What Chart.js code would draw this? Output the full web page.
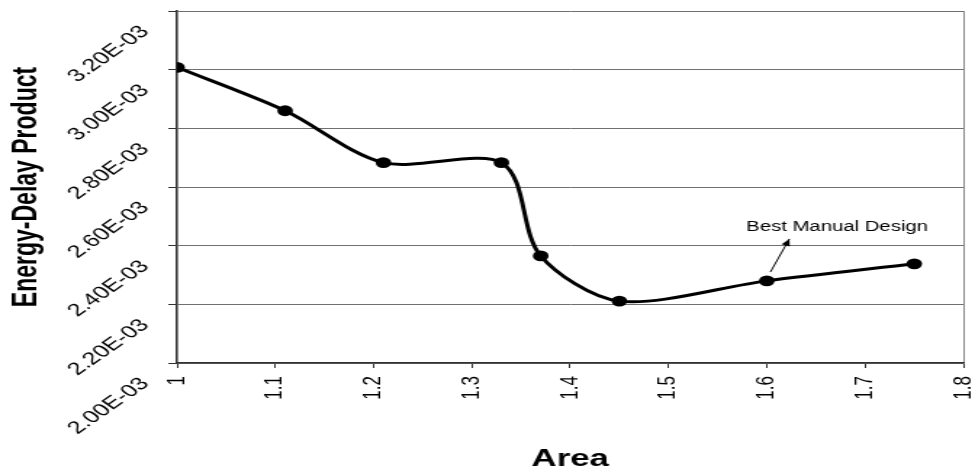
<!DOCTYPE html>
<html>
<head>
<meta charset="utf-8">
<script src="https://cdn.jsdelivr.net/npm/chart.js@4.4.1/dist/chart.umd.min.js"></script>
<style>
html, body { margin: 0; padding: 0; background: #fff; overflow: hidden; }
#wrap { position: absolute; left: 0; top: 0; width: 672px; height: 474px; transform: scaleX(1.4509); transform-origin: 0 0; }
</style>
</head>
<body>
<div id="wrap"><canvas id="c"></canvas></div>
<script>
// ---- data ----
const areaValues = [1, 1.11, 1.21, 1.33, 1.37, 1.45, 1.6, 1.75];
const edpValues = [3.008e-3, 2.860e-3, 2.683e-3, 2.683e-3, 2.365e-3, 2.211e-3, 2.280e-3, 2.338e-3];
const xTickValues = [1, 1.1, 1.2, 1.3, 1.4, 1.5, 1.6, 1.7, 1.8];
const yTickValues = [2.0e-3, 2.2e-3, 2.4e-3, 2.6e-3, 2.8e-3, 3.0e-3, 3.2e-3];
const xTitle = 'Area';
const yTitle = 'Energy-Delay Product';
const annotationText = 'Best Manual Design';
const annotationLabelAt = [1.6715, 2.4637e-3];
const annotationArrowFrom = [1.6036, 2.310e-3];
const annotationArrowTo = [1.623, 2.423e-3];

const FONT = '"Liberation Sans", Arial, Helvetica, sans-serif';
Chart.defaults.font.family = FONT;
Chart.defaults.color = '#000';

function fmtExp(v) {
  const parts = Number(v).toExponential(2).toUpperCase().split('E');
  const e = parseInt(parts[1], 10);
  const sign = e < 0 ? '-' : '+';
  const abs = String(Math.abs(e)).padStart(2, '0');
  return parts[0] + 'E' + sign + abs;
}

const annotationPlugin = {
  id: 'annotationPlugin',
  afterDatasetsDraw(chart) {
    const ctx = chart.ctx;
    const xs = chart.scales.x, ys = chart.scales.y;
    ctx.save();
    ctx.font = '14px ' + FONT;
    ctx.fillStyle = '#000';
    ctx.textAlign = 'center';
    ctx.textBaseline = 'middle';
    ctx.fillText(annotationText, xs.getPixelForValue(annotationLabelAt[0]), ys.getPixelForValue(annotationLabelAt[1]));
    const x1 = xs.getPixelForValue(annotationArrowFrom[0]), y1 = ys.getPixelForValue(annotationArrowFrom[1]);
    const x2 = xs.getPixelForValue(annotationArrowTo[0]), y2 = ys.getPixelForValue(annotationArrowTo[1]);
    ctx.strokeStyle = '#000';
    ctx.lineWidth = 1;
    ctx.beginPath();
    ctx.moveTo(x1, y1);
    ctx.lineTo(x2, y2);
    ctx.stroke();
    const ang = Math.atan2(y2 - y1, x2 - x1);
    const L = 7, W = 3;
    ctx.beginPath();
    ctx.moveTo(x2, y2);
    ctx.lineTo(x2 - L * Math.cos(ang) + W * Math.sin(ang), y2 - L * Math.sin(ang) - W * Math.cos(ang));
    ctx.lineTo(x2 - L * Math.cos(ang) - W * Math.sin(ang), y2 - L * Math.sin(ang) + W * Math.cos(ang));
    ctx.closePath();
    ctx.fillStyle = '#000';
    ctx.fill();
    ctx.restore();
  }
};

new Chart(document.getElementById('c'), {
  type: 'line',
  data: {
    datasets: [{
      data: areaValues.map((a, i) => ({ x: a, y: edpValues[i] })),
      borderColor: '#000',
      backgroundColor: '#000',
      borderWidth: 3,
      pointRadius: 5.4,
      pointHoverRadius: 5.4,
      pointBackgroundColor: '#000',
      pointBorderWidth: 0,
      tension: 0.3,
      fill: false
    }]
  },
  options: {
    responsive: true,
    maintainAspectRatio: false,
    animation: false,
    events: [],
    layout: { padding: { left: 0, right: 8, top: 11, bottom: 0 } },
    plugins: { legend: { display: false }, tooltip: { enabled: false } },
    scales: {
      x: {
        type: 'linear',
        min: 1, max: 1.8,
        afterBuildTicks: s => { s.ticks = xTickValues.map(v => ({ value: v })); },
        afterFit: s => { s.height = 111; s.paddingLeft = 0; s.paddingRight = 0; },
        ticks: {
          minRotation: 90, maxRotation: 90,
          padding: 8,
          font: { size: 17 },
          color: '#000',
          callback: v => String(v)
        },
        grid: {
          color: c => (c.tick && Math.abs(c.tick.value - 1.8) < 1e-9) ? '#888' : 'rgba(0,0,0,0)',
          lineWidth: 1,
          tickColor: '#333',
          tickLength: 5
        },
        border: { color: '#333', width: 1.6 },
        title: { display: true, text: xTitle, font: { size: 24, weight: 'bold' }, color: '#000', padding: { top: 0, bottom: 0 } }
      },
      y: {
        type: 'linear',
        min: 2.0e-3, max: 3.2e-3,
        afterBuildTicks: s => { s.ticks = yTickValues.map(v => ({ value: v })); },
        afterFit: s => { s.width = 122; s.paddingTop = 0; s.paddingBottom = 0; },
        ticks: {
          minRotation: 45, maxRotation: 45,
          padding: 16,
          labelOffset: 18,
          font: { size: 17.5 },
          color: '#000',
          callback: v => fmtExp(v)
        },
        grid: { color: '#707070', lineWidth: 1, tickColor: '#333', tickLength: 6 },
        border: { color: '#333', width: 1.6 },
        title: { display: true, text: yTitle, font: { size: 23, weight: 'bold' }, color: '#000', padding: { top: 5, bottom: 0 } }
      }
    }
  },
  plugins: [annotationPlugin]
});
</script>
</body>
</html>
